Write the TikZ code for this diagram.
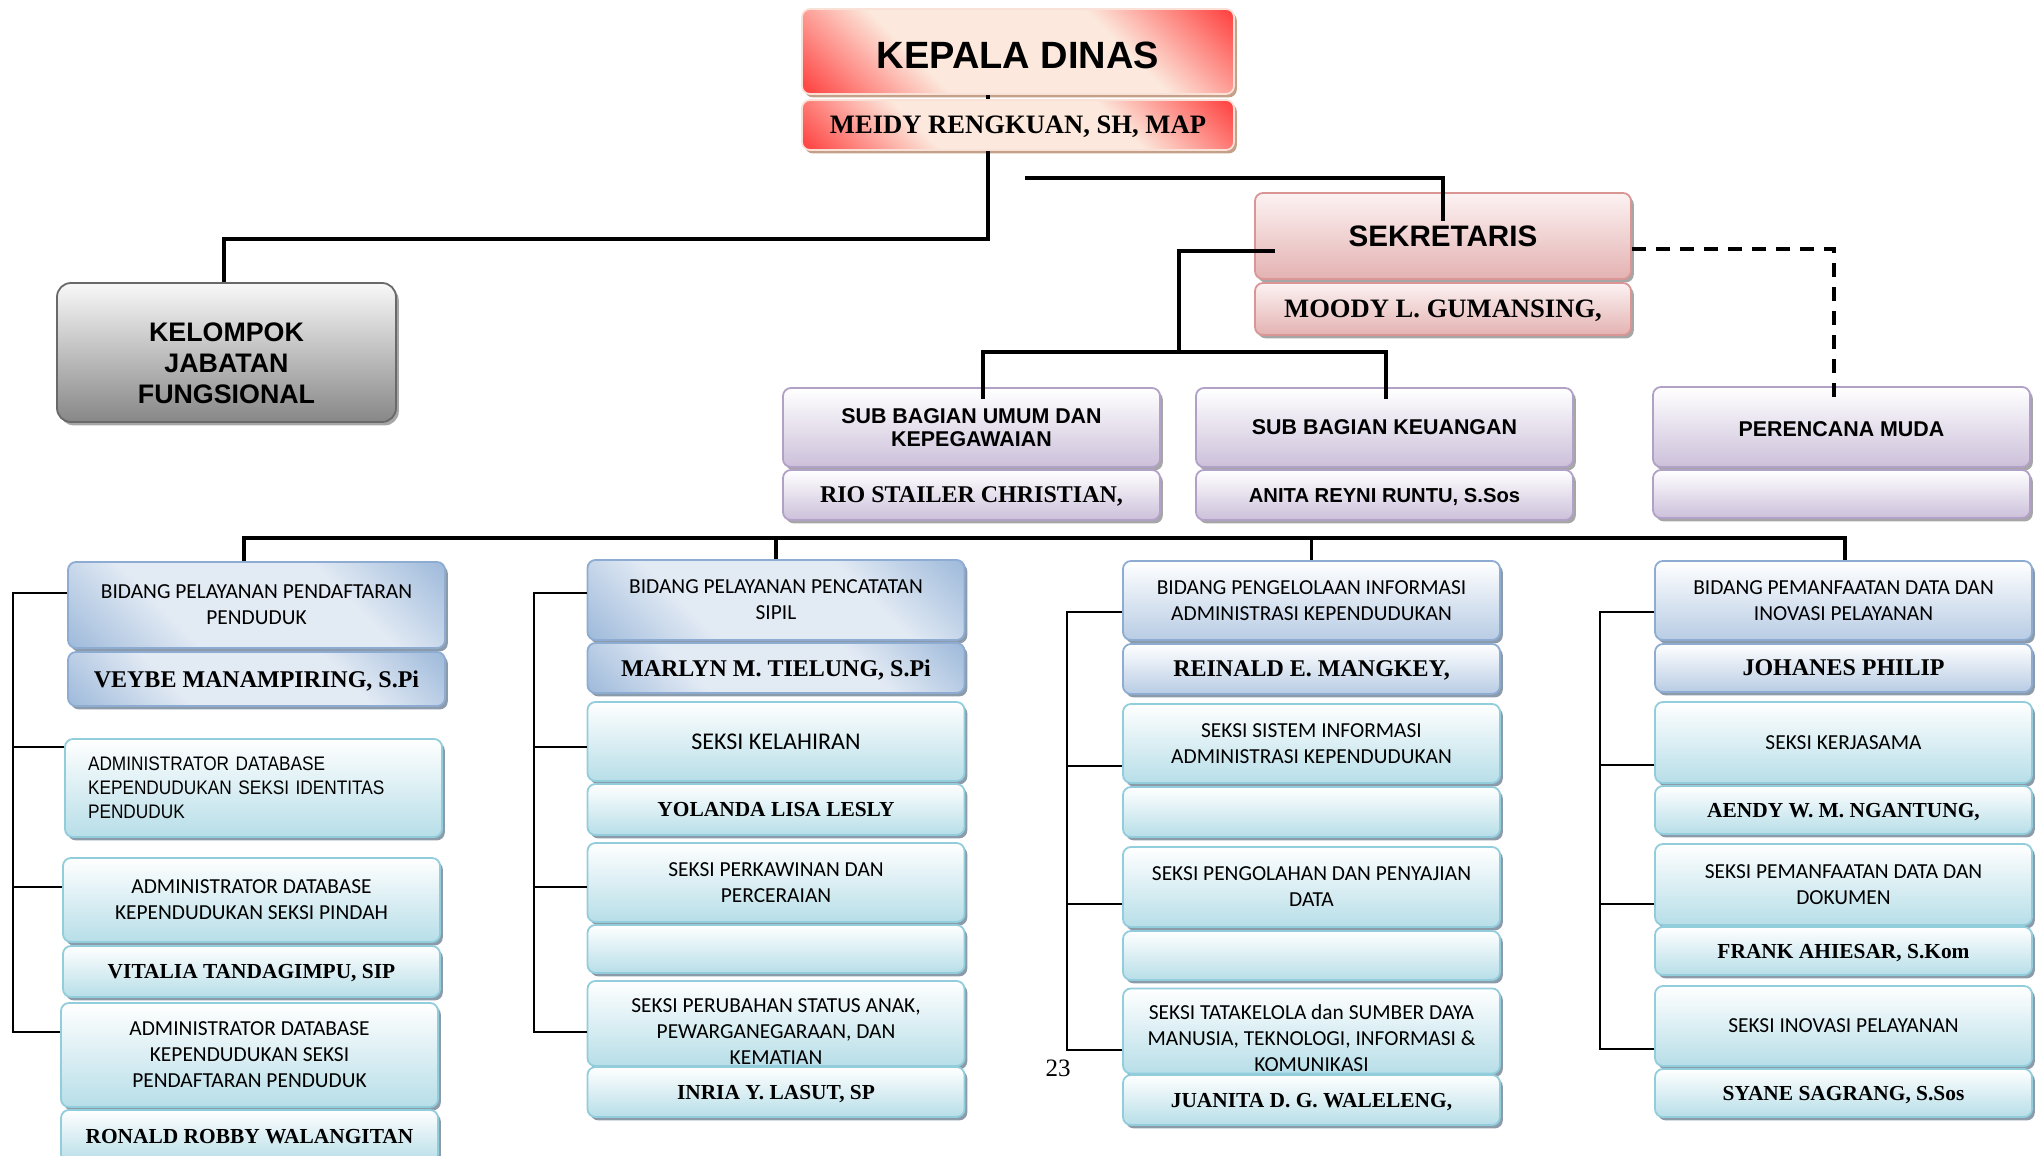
\documentclass[tikz,border=0pt]{standalone}
\usepackage{fontspec}
\setmainfont{Liberation Serif}
\newfontfamily\arialf{Liberation Sans}
\newfontfamily\narrowf[FakeStretch=0.88]{Liberation Sans}
\newfontfamily\calibf{Carlito}
\usetikzlibrary{shadows}

\definecolor{kred}{RGB}{255,40,40}
\definecolor{kpale}{RGB}{252,232,220}
\definecolor{kline}{RGB}{250,225,215}
\definecolor{kshadow}{RGB}{196,160,136}
\definecolor{ptop}{RGB}{252,242,242}
\definecolor{pbot}{RGB}{228,178,178}
\definecolor{pline}{RGB}{217,150,148}
\definecolor{gtop}{RGB}{248,248,248}
\definecolor{gbot}{RGB}{135,135,135}
\definecolor{gline}{RGB}{105,105,105}
\definecolor{ubot}{RGB}{204,192,218}
\definecolor{uline}{RGB}{178,161,199}
\definecolor{bdark}{RGB}{149,179,215}
\definecolor{blight}{RGB}{226,234,244}
\definecolor{bbot}{RGB}{184,204,228}
\definecolor{bline}{RGB}{142,172,210}
\definecolor{sbot}{RGB}{183,222,232}
\definecolor{sline}{RGB}{146,205,220}
\definecolor{bshadow}{RGB}{140,155,170}

\pgfdeclareverticalshading{kepshade}{100bp}{color(0bp)=(kred); color(12bp)=(kred);
  color(35bp)=(kpale); color(65bp)=(kpale); color(88bp)=(kred); color(100bp)=(kred)}
\pgfdeclareverticalshading{bidshade}{100bp}{color(0bp)=(bdark); color(12bp)=(bdark);
  color(35bp)=(blight); color(65bp)=(blight); color(88bp)=(bdark); color(100bp)=(bdark)}

\tikzset{
  box/.style={draw, line width=0.9pt, rounded corners=4pt, align=center,
    inner sep=1pt, minimum width=188.5pt, minimum height=40pt},
  bayang/.style={drop shadow={shadow xshift=1.4pt, shadow yshift=-1.7pt,
    fill=#1, opacity=1}},
  kepala/.style={box, draw=kline, shade, shading=kepshade, shading angle=135, bayang=kshadow},
  sekr/.style={box, draw=pline, top color=ptop, bottom color=pbot, bayang=black!35},
  fung/.style={box, draw=gline, top color=gtop, bottom color=gbot,
    rounded corners=7pt, bayang=black!35},
  ungu/.style={box, draw=uline, top color=white, bottom color=ubot, bayang=black!35},
  bidA/.style={box, draw=bline, shade, shading=bidshade, shading angle=135, bayang=bshadow},
  bidB/.style={box, draw=bline, top color=white, bottom color=bbot, bayang=bshadow},
  seksi/.style={box, draw=sline, top color=white, bottom color=sbot, bayang=bshadow},
  % fonts
  fkep/.style={font=\arialf\bfseries\fontsize{19}{21}\selectfont},
  fjudul/.style={font=\arialf\bfseries\fontsize{14.8}{16}\selectfont},
  fkjf/.style={font=\arialf\bfseries\fontsize{13.4}{15.5}\selectfont},
  fsub/.style={font=\arialf\bfseries\fontsize{10.7}{11.6}\selectfont},
  fadmin/.style={font=\narrowf\fontsize{9.8}{12}\selectfont},
  fseksi/.style={font=\calibf\fontsize{10.7}{13}\selectfont},
  fpimp/.style={font=\bfseries\fontsize{13.3}{15}\selectfont, text depth=0pt},
  fnama/.style={font=\bfseries\fontsize{12}{14}\selectfont, text depth=0pt},
  fnamak/.style={font=\bfseries\fontsize{10.7}{13}\selectfont, text depth=0pt},
  % lines
  garis/.style={line width=1.7pt},
  cabang/.style={line width=1.3pt},
  putus/.style={line width=1.7pt, dash pattern=on 7pt off 5pt},
}

\begin{document}
\begin{tikzpicture}[x=0.5pt,y=-0.5pt]
\useasboundingbox (0,0) rectangle (2036,1156);

% pimpinan
\node[kepala, fkep, text height=17.6pt, minimum width=216pt, minimum height=42.5pt] (kep) at (1018,51.5) {KEPALA DINAS};
\node[kepala, fpimp, minimum width=216pt, minimum height=25pt] (kepnm) at (1018,125) {MEIDY RENGKUAN, SH, MAP};

\node[fung, fkjf, text height=51pt, minimum width=169.5pt, minimum height=69.5pt] (kjf) at (226.5,352.5) {KELOMPOK\\JABATAN\\FUNGSIONAL};

\node[sekr, fjudul, minimum width=188pt, minimum height=43pt] (sek) at (1443,236) {SEKRETARIS};
\node[sekr, fpimp, minimum width=188pt, minimum height=26pt] (seknm) at (1443,309) {MOODY L. GUMANSING,};

\node[ungu, fsub, minimum height=39.5pt] (sbu) at (971.5,427.5) {SUB BAGIAN UMUM DAN\\KEPEGAWAIAN};
\node[ungu, fnama, minimum height=25pt] (sbunm) at (971.5,495) {RIO STAILER CHRISTIAN,};
\node[ungu, fsub, minimum height=39.5pt] (sbk) at (1384.5,427.5) {SUB BAGIAN KEUANGAN};
\node[ungu, fsub, font=\arialf\bfseries\fontsize{10.1}{11}\selectfont, text depth=0pt, minimum height=25pt] (sbknm) at (1384.5,495) {ANITA REYNI RUNTU, S.Sos};
\node[ungu, fsub, text height=10pt, minimum height=40pt] (pm) at (1841.5,427) {PERENCANA MUDA};
\node[ungu, minimum height=24pt] (pmnm) at (1841.5,494) {};

% bidang pelayanan pendaftaran penduduk
\node[bidA, fseksi, minimum height=43pt] (bid1) at (256.5,605) {BIDANG PELAYANAN PENDAFTARAN\\PENDUDUK};
\node[bidA, fnama, minimum height=27pt] (bid1nm) at (256.5,679) {VEYBE MANAMPIRING, S.Pi};
\node[seksi, fadmin, align=left, text width=165.5pt, inner xsep=11.5pt, minimum height=49pt] (adm1) at (253.5,788) {ADMINISTRATOR DATABASE\\KEPENDUDUKAN SEKSI IDENTITAS\\PENDUDUK};
\node[seksi, fseksi, minimum height=42pt] (adm2) at (251.5,900) {ADMINISTRATOR DATABASE\\KEPENDUDUKAN SEKSI PINDAH};
\node[seksi, fnamak, minimum height=25.5pt] (adm2nm) at (251.5,971.5) {VITALIA TANDAGIMPU, SIP};
\node[seksi, fseksi, minimum height=52pt] (adm3) at (249.5,1055) {ADMINISTRATOR DATABASE\\KEPENDUDUKAN SEKSI\\PENDAFTARAN PENDUDUK};
\node[seksi, fnamak, minimum height=26pt] (adm3nm) at (249.5,1136) {RONALD ROBBY WALANGITAN};

% bidang pelayanan pencatatan sipil
\node[bidA, fseksi] (bid2) at (776,600) {BIDANG PELAYANAN PENCATATAN\\SIPIL};
\node[bidA, fnama, minimum height=25pt] (bid2nm) at (776,668) {MARLYN M. TIELUNG, S.Pi};
\node[seksi, fseksi, font=\calibf\fontsize{12}{14}\selectfont, minimum height=39.5pt] (sk21) at (776,741.5) {SEKSI KELAHIRAN};
\node[seksi, fnamak, minimum height=25.5pt] (sk21nm) at (776,809.5) {YOLANDA LISA LESLY};
\node[seksi, fseksi, minimum height=39.5pt] (sk22) at (776,882.5) {SEKSI PERKAWINAN DAN\\PERCERAIAN};
\node[seksi, minimum height=24pt] (sk22nm) at (776,949) {};
\node[seksi, fseksi, text height=40.5pt, minimum height=39.5pt] (sk23) at (776,1023.5) {SEKSI PERUBAHAN STATUS ANAK,\\PEWARGANEGARAAN, DAN\\KEMATIAN};
\node[seksi, fnamak, minimum height=25pt] (sk23nm) at (776,1092) {INRIA Y. LASUT, SP};

% bidang pengelolaan informasi
\node[bidB, fseksi, minimum height=39.5pt] (bid3) at (1311.5,600.5) {BIDANG PENGELOLAAN INFORMASI\\ADMINISTRASI KEPENDUDUKAN};
\node[bidB, fnama, minimum height=25pt] (bid3nm) at (1311.5,669) {REINALD E. MANGKEY,};
\node[seksi, fseksi, minimum height=39.5pt] (sk31) at (1311.5,743.5) {SEKSI SISTEM INFORMASI\\ADMINISTRASI KEPENDUDUKAN};
\node[seksi, minimum height=25pt] (sk31nm) at (1311.5,812) {};
\node[seksi, fseksi] (sk32) at (1311.5,887) {SEKSI PENGOLAHAN DAN PENYAJIAN\\DATA};
\node[seksi, minimum height=24.5pt] (sk32nm) at (1311.5,955.5) {};
\node[seksi, fseksi, text height=40.5pt] (sk33) at (1311.5,1031) {SEKSI TATAKELOLA dan SUMBER DAYA\\MANUSIA, TEKNOLOGI, INFORMASI \&\\KOMUNIKASI};
\node[seksi, fnamak, minimum height=25pt] (sk33nm) at (1311.5,1100) {JUANITA D. G. WALELENG,};

% bidang pemanfaatan data
\node[bidB, fseksi, minimum height=39.5pt] (bid4) at (1843.5,600.5) {BIDANG PEMANFAATAN DATA DAN\\INOVASI PELAYANAN};
\node[bidB, fnama, minimum height=24pt] (bid4nm) at (1843.5,668) {JOHANES PHILIP};
\node[seksi, fseksi, minimum height=40.5pt] (sk41) at (1843.5,742.5) {SEKSI KERJASAMA};
\node[seksi, fnamak, minimum height=24pt] (sk41nm) at (1843.5,810) {AENDY W. M. NGANTUNG,};
\node[seksi, fseksi, minimum height=40.5pt] (sk42) at (1843.5,884.5) {SEKSI PEMANFAATAN DATA DAN\\DOKUMEN};
\node[seksi, fnamak, minimum height=24pt] (sk42nm) at (1843.5,951) {FRANK AHIESAR, S.Kom};
\node[seksi, fseksi] (sk43) at (1843.5,1026) {SEKSI INOVASI PELAYANAN};
\node[seksi, fnamak, minimum height=24pt] (sk43nm) at (1843.5,1093) {SYANE SAGRANG, S.Sos};

\node[font=\fontsize{12.5}{14}\selectfont] (hal) at (1058,1068) {23};

% garis komando
\draw[garis] ([xshift=-15pt]kep.south) -- ([xshift=-15pt]kepnm.north);
\draw[garis] ([xshift=-15pt]kepnm.south) |- ([xshift=-1.25pt,yshift=21.5pt]kjf.north) -- ([xshift=-1.25pt]kjf.north);
\coordinate (kd) at (1025,178);
\draw[garis] (kd) -| ([yshift=-14.5pt]sek.north);
\coordinate (sj) at (1179,353);
\draw[garis] ([xshift=10.5pt,yshift=-7.5pt]sek.west) -| (sj);
\draw[garis] ([xshift=5.75pt,yshift=-6pt]sbu.north) |- ([xshift=0.75pt,yshift=17.5pt]sbk.north) -- ([xshift=0.75pt,yshift=-6pt]sbk.north);
\draw[putus] ([yshift=-6.5pt]sek.east) -| ([xshift=-3.75pt,yshift=-7.5pt]pm.north);

\coordinate (bus) at (1845,538);
\draw[garis] ([xshift=-6.25pt]bid1.north) |- (bus) -- (bus |- bid4.north);
\draw[garis] (bid2.north) -- (bid2.north |- bus);
\draw[garis] (bid3.north) -- (bid3.north |- bus);

% cabang tiap bidang
\coordinate (k1) at (13,1032);
\draw[cabang] (bid1.west |- 0,593) -| (k1) -- (k1 -| adm3.west);
\draw[cabang] (adm1.west |- 0,747) -- (k1 |- 0,747);
\draw[cabang] (adm2.west |- 0,887) -- (k1 |- 0,887);

\coordinate (k2) at (534,1032);
\draw[cabang] (bid2.west |- 0,593) -| (k2) -- (k2 -| sk23.west);
\draw[cabang] (sk21.west |- 0,747) -- (k2 |- 0,747);
\draw[cabang] (sk22.west |- 0,887) -- (k2 |- 0,887);

\coordinate (k3) at (1067,1050);
\draw[cabang] (bid3.west |- 0,612) -| (k3) -- (k3 -| sk33.west);
\draw[cabang] (sk31.west |- 0,766) -- (k3 |- 0,766);
\draw[cabang] (sk32.west |- 0,904) -- (k3 |- 0,904);

\coordinate (k4) at (1600,1049);
\draw[cabang] (bid4.west |- 0,612) -| (k4) -- (k4 -| sk43.west);
\draw[cabang] (sk41.west |- 0,765) -- (k4 |- 0,765);
\draw[cabang] (sk42.west |- 0,904) -- (k4 |- 0,904);

\end{tikzpicture}
\end{document}
